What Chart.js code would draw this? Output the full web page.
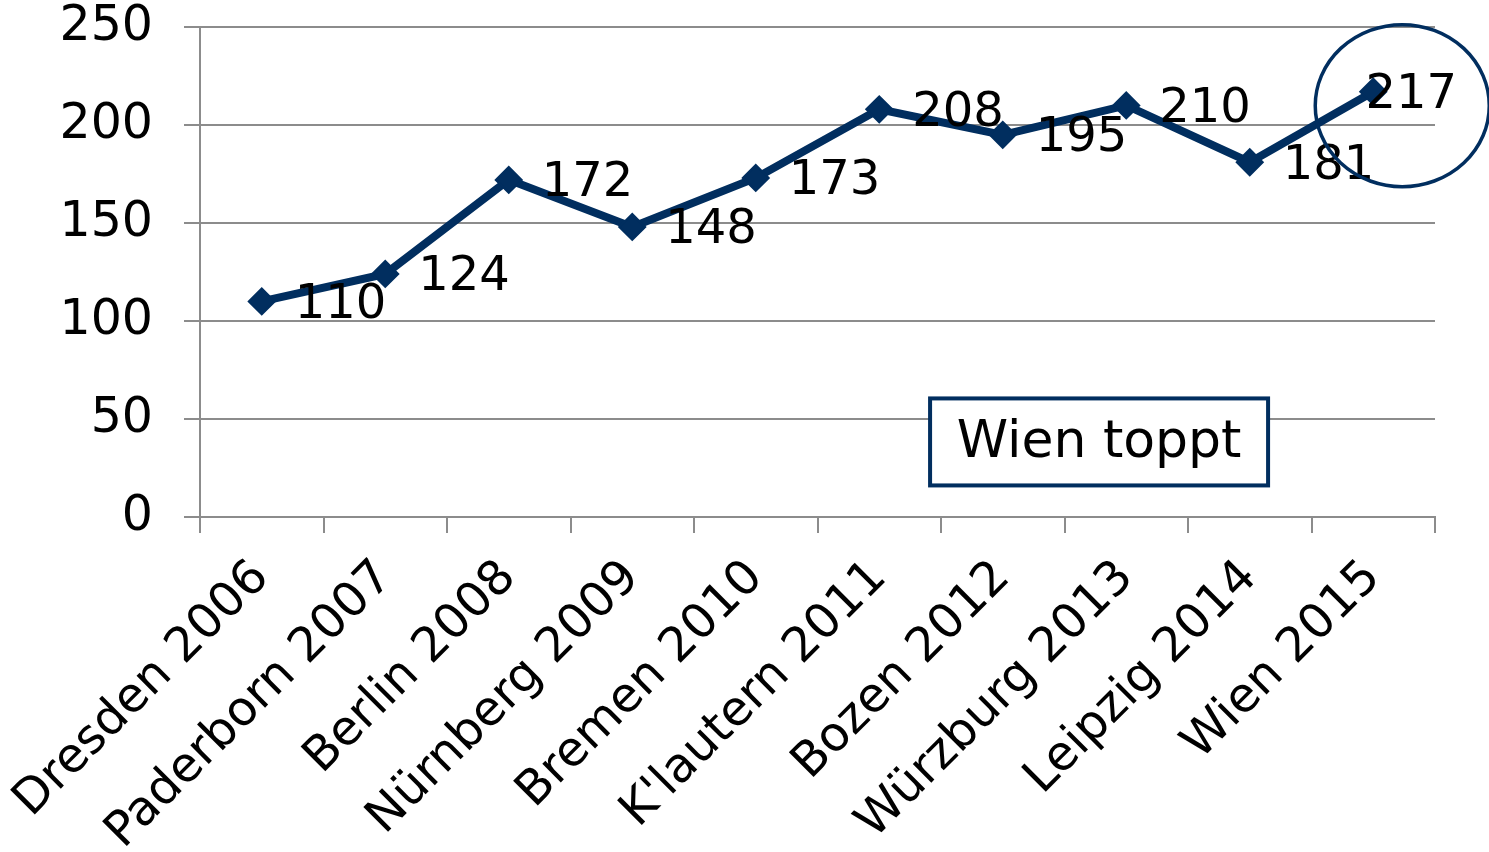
<!DOCTYPE html>
<html><head><meta charset="utf-8">
<script src="https://cdn.jsdelivr.net/npm/chart.js@4.4.1/dist/chart.umd.min.js"></script>
<style>html,body{margin:0;padding:0;background:#fff}#wrap{width:1489px;height:852px}</style>
</head><body><div id="wrap"><canvas id="c" width="1489" height="852"></canvas></div>
<script>
const categories = ['Dresden 2006','Paderborn 2007','Berlin 2008','Nürnberg 2009','Bremen 2010',"K'lautern 2011",'Bozen 2012','Würzburg 2013','Leipzig 2014','Wien 2015'];
const values = [110,124,172,148,173,208,195,210,181,217];
const yTicks = [0,50,100,150,200,250];
const calloutText = 'Wien toppt';

const NAVY = '#012E5F';
const GRID = '#8c8c8c';
const FAMILY = '"DejaVu Sans", Verdana, sans-serif';

const labelPlugin = {
  id: 'labels',
  afterDatasetsDraw(chart) {
    const ctx = chart.ctx;
    const meta = chart.getDatasetMeta(0);
    const area = chart.chartArea;
    ctx.save();
    // callout box
    const xs = chart.scales.x, ys = chart.scales.y;
    const cx = xs.getPixelForValue(6.78), cy = ys.getPixelForValue(38.3);
    const bw = 338, bh = 87;
    ctx.fillStyle = '#fff';
    ctx.fillRect(cx - bw/2, cy - bh/2, bw, bh);
    ctx.strokeStyle = NAVY; ctx.lineWidth = 4;
    ctx.strokeRect(cx - bw/2, cy - bh/2, bw, bh);
    ctx.fillStyle = '#000';
    ctx.font = '52px ' + FAMILY;
    ctx.textAlign = 'center'; ctx.textBaseline = 'middle';
    ctx.fillText(calloutText, cx, cy + 2);
    // data labels
    ctx.font = '48px ' + FAMILY;
    ctx.textAlign = 'left'; ctx.textBaseline = 'middle';
    meta.data.forEach((pt, i) => {
      const txt = String(values[i]);
      const w = ctx.measureText(txt).width;
      let x = pt.x + 33;
      if (x + w > area.right + 22) x = area.right + 22 - w;
      ctx.fillText(txt, x, pt.y + 4);
    });
    // highlight circle around last point
    const last = meta.data[meta.data.length - 1];
    ctx.beginPath();
    ctx.ellipse(last.x + 29, last.y + 14, 87, 81, 0, 0, Math.PI * 2);
    ctx.strokeStyle = NAVY; ctx.lineWidth = 3.5;
    ctx.stroke();
    ctx.restore();
  }
};

new Chart(document.getElementById('c'), {
  type: 'line',
  data: {
    labels: categories,
    datasets: [{
      data: values,
      borderColor: NAVY,
      backgroundColor: NAVY,
      borderWidth: 8,
      tension: 0,
      pointStyle: 'rectRot',
      pointRadius: 13,
      pointBorderWidth: 2,
      pointBackgroundColor: NAVY,
      pointBorderColor: NAVY
    }]
  },
  options: {
    responsive: false,
    animation: false,
    devicePixelRatio: 1,
    layout: { padding: { top: 27, right: 54, left: 0, bottom: 0 } },
    plugins: { legend: { display: false }, tooltip: { enabled: false } },
    scales: {
      x: {
        offset: true,
        grid: { offset: true, drawOnChartArea: false, drawTicks: true, tickLength: 16, color: GRID, lineWidth: 2 },
        border: { color: GRID, width: 2 },
        ticks: { autoSkip: false, minRotation: 45, maxRotation: 45, color: '#000', padding: 20,
                 font: { family: FAMILY, size: 48, lineHeight: 1 } },
        afterFit(s) { s.height = 335; s.paddingLeft = 0; s.paddingRight = 0; }
      },
      y: {
        min: 0, max: 250,
        afterBuildTicks(s) { s.ticks = yTicks.map(v => ({ value: v })); },
        grid: { color: GRID, lineWidth: 2, tickLength: 16, drawTicks: true },
        border: { color: GRID, width: 2 },
        ticks: { color: '#000', padding: 31, font: { family: FAMILY, size: 49, lineHeight: 1 } },
        afterFit(s) { s.width = 200; s.paddingTop = 0; s.paddingBottom = 0; }
      }
    }
  },
  plugins: [labelPlugin]
});
</script></body></html>
